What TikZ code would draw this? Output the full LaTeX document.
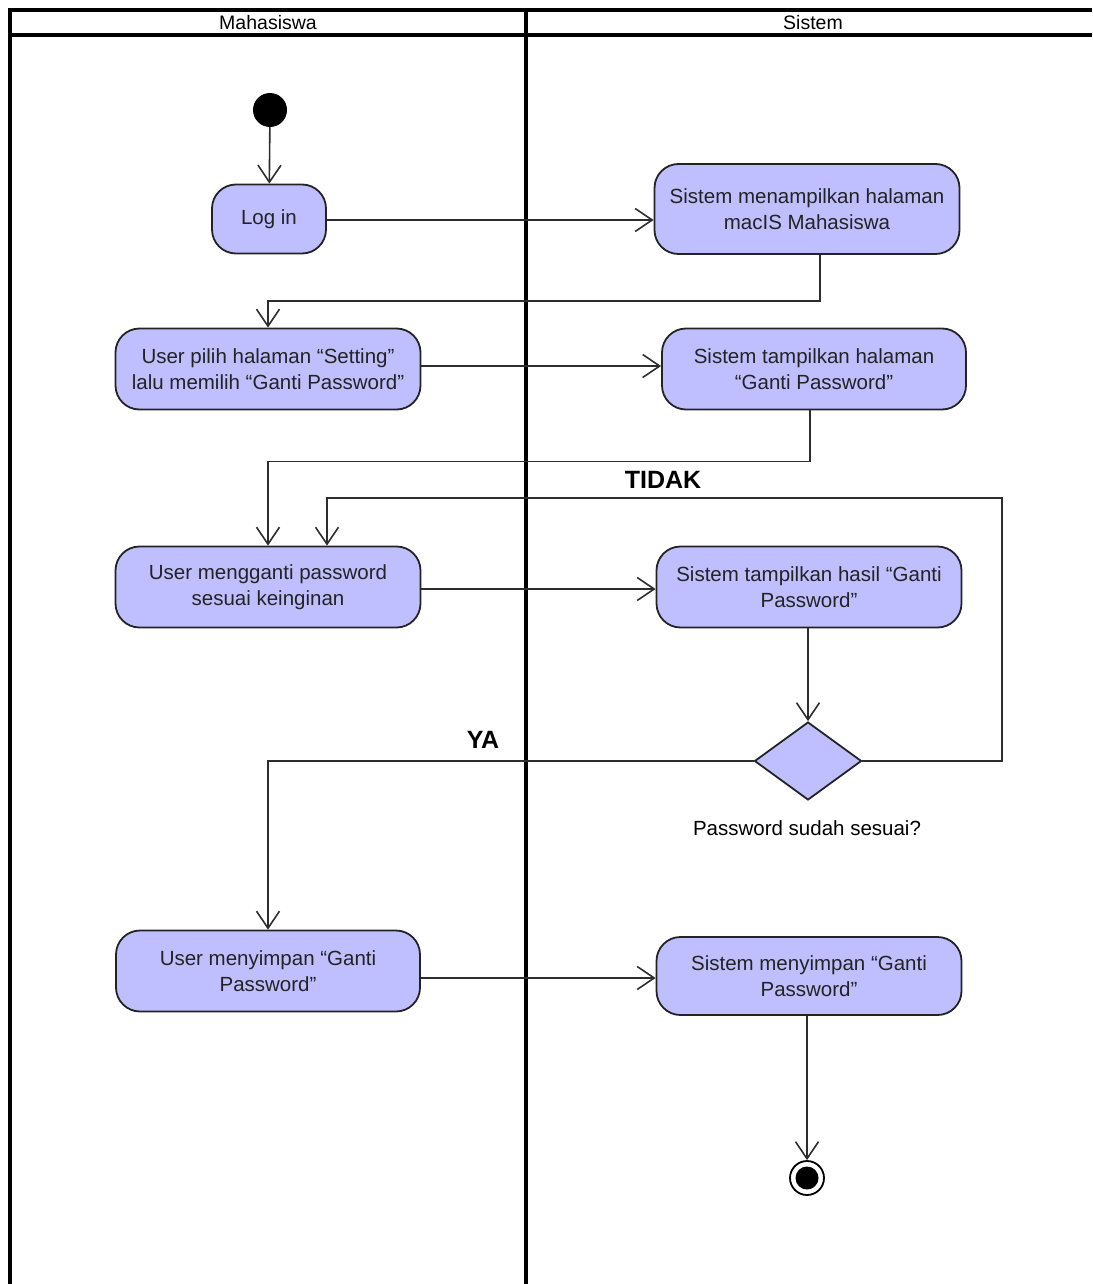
\documentclass[tikz,border=0pt]{standalone}
\usepackage{fontspec}
\setmainfont{Liberation Sans}
\usetikzlibrary{arrows.meta,shapes.geometric,calc}
\definecolor{actfill}{RGB}{191,191,255}
\definecolor{ink}{RGB}{35,35,35}
\definecolor{wire}{RGB}{45,45,45}
\begin{document}
\begin{tikzpicture}[x=1pt,y=-1pt,
  lane/.style={line width=3.4pt,black},
  action/.style={draw=ink,line width=1.8pt,fill=actfill,rounded corners=24pt,
    align=center,text=ink,inner sep=0pt,
    font=\fontsize{20.5}{26}\selectfont},
  flow/.style={draw=wire,line width=1.6pt,
    -{Straight Barb[length=17pt,width=23pt,line width=1.6pt]}},
  guard/.style={font=\fontsize{25}{30}\selectfont\bfseries,text=black},
  headtxt/.style={font=\fontsize{19.5}{22}\selectfont,text=black}]
\useasboundingbox (0,0) rectangle (1092,1284);

% swimlane frame
\draw[lane] (10,1284) -- (10,10) -- (1092,10);
\draw[lane,line width=4pt] (10,35) -- (1092,35);
\draw[lane] (526,10) -- (526,1284);
\node[headtxt] (hMhs) at (268,23) {Mahasiswa};
\node[headtxt] (hSys) at (813,23) {Sistem};

% initial and final states
\node[circle,fill=black,minimum size=34pt,inner sep=0pt] (start) at (270,110) {};
\node[circle,draw=black,line width=1.8pt,minimum size=34pt,inner sep=0pt] (end) at (807,1178) {};
\fill[black] (end.center) circle (11.5pt);

% activities
\node[action,minimum width=114pt,minimum height=69pt] (login) at (269,219) {Log in};
\node[action,minimum width=305pt,minimum height=90pt] (tampil1) at (807,209)
  {Sistem menampilkan halaman\\macIS Mahasiswa};
\node[action,minimum width=305pt,minimum height=81pt] (pilih) at (268,369)
  {User pilih halaman “Setting”\\lalu memilih “Ganti Password”};
\node[action,minimum width=304pt,minimum height=81pt] (tampil2) at (814,369)
  {Sistem tampilkan halaman\\“Ganti Password”};
\node[action,minimum width=305pt,minimum height=81pt] (ganti) at (268,587)
  {User mengganti password\\sesuai keinginan};
\node[action,minimum width=305pt,minimum height=81pt] (hasil) at (809,587)
  {Sistem tampilkan hasil “Ganti\\Password”};
\node[diamond,draw=ink,line width=1.8pt,fill=actfill,inner sep=0pt,
  minimum width=107pt,minimum height=78pt] (cek) at (808,761) {};
\node[font=\fontsize{20.5}{24}\selectfont,text=black] (cekLbl) at (807,828)
  {Password sudah sesuai?};
\node[action,minimum width=304pt,minimum height=81pt] (simpanU) at (268,971)
  {User menyimpan “Ganti\\Password”};
\node[action,minimum width=305pt,minimum height=78pt] (simpanS) at (809,976)
  {Sistem menyimpan “Ganti\\Password”};

% control flow
\draw[flow] (start) -- (login);
\draw[flow] ($(login.east)+(0,1)$) -- ($(login.east -| tampil1.west)+(0,1)$);
\draw[flow] ($(tampil1.south)+(13,0)$) -- ++(0,46) -| (pilih.north);
\draw[flow] ($(pilih.east)+(0,-3)$) -- ($(pilih.east -| tampil2.west)+(0,-3)$);
\draw[flow] ($(tampil2.south)+(-4,0)$) -- ++(0,51) -| (ganti.north);
\draw[flow] ($(ganti.east)+(0,2)$) -- ($(ganti.east -| hasil.west)+(0,2)$);
\draw[flow] ($(hasil.south)+(-1,0)$) -- (cek.north);
\coordinate (loopR) at (1002,498);
\draw[flow] (cek.east) -| (loopR) -| ($(ganti.north)+(59,0)$);
\draw[flow] (cek.west) -| (simpanU.north);
\draw[flow] ($(simpanU.east)+(0,7)$) -- ($(simpanU.east -| simpanS.west)+(0,7)$);
\draw[flow] ($(simpanS.south)+(-2,0)$) -- (end.north);

% guard labels
\node[guard] (tidak) at (663,480) {TIDAK};
\node[guard] (ya) at (483,740) {YA};
\end{tikzpicture}
\end{document}
